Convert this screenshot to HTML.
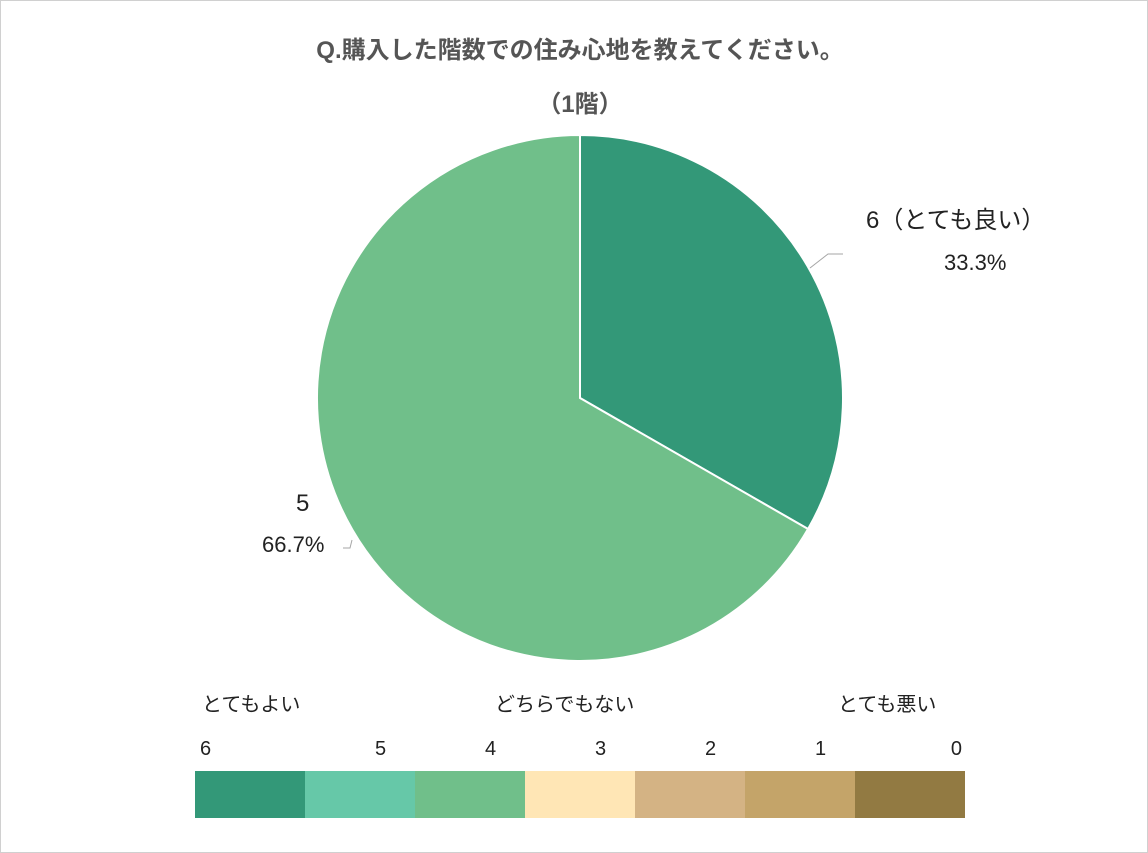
<!DOCTYPE html>
<html><head><meta charset="utf-8">
<style>
body{margin:0;background:#fff;}
#c{position:relative;width:1148px;height:853px;overflow:hidden;font-family:"Liberation Sans","Noto Sans CJK JP",sans-serif;}
.t{position:absolute;white-space:nowrap;color:#222;}
</style></head>
<body>
<div id="c">
<svg width="1148" height="853" style="position:absolute;left:0;top:0">
<rect x="0.5" y="0.5" width="1147" height="852" fill="#fff" stroke="#d0d0d0"/>
<text x="580" y="58" text-anchor="middle" font-size="24" font-weight="bold" fill="#555" font-family="Liberation Sans, Noto Sans CJK JP, sans-serif">Q.購入した階数での住み心地を教えてください。</text>
<text x="580" y="112" text-anchor="middle" font-size="24" font-weight="bold" fill="#555" font-family="Liberation Sans, Noto Sans CJK JP, sans-serif">（1階）</text>
<g id="pie"></g>
<polyline points="810,268 828,254 843,254" fill="none" stroke="#a6a6a6" stroke-width="1"/>
<polyline points="343,548 350,548 352,540" fill="none" stroke="#a6a6a6" stroke-width="1"/>
<g id="legend"></g>
</svg>
<div class="t" style="left:866px;top:200px;font-size:24px;">6（とても良い）</div>
<div class="t" style="left:944px;top:250px;font-size:22px;">33.3%</div>
<div class="t" style="left:296px;top:490px;font-size:24px;">5</div>
<div class="t" style="left:262px;top:532px;font-size:22px;">66.7%</div>
<div class="t" style="left:202px;top:688px;font-size:20px;">とてもよい</div>
<div class="t" style="left:495px;top:688px;font-size:20px;">どちらでもない</div>
<div class="t" style="left:838px;top:688px;font-size:20px;">とても悪い</div>
</div>
<script>
const categories=["6（とても良い）","5"];
const values=[33.3,66.7];
const colors=["#339878","#70BF8A"];
const scaleLabels=["6","5","4","3","2","1","0"];
const scaleColors=["#339878","#66C8A8","#70BF8A","#FFE6B5","#D4B384","#C4A469","#927A42"];
const NS="http://www.w3.org/2000/svg";
const cx=580,cy=398,r=263;
const pie=document.getElementById('pie');
const total=values.reduce((a,b)=>a+b,0);
function pt(a){return [cx+r*Math.sin(a),cy-r*Math.cos(a)];}
let a0=0;
values.forEach((v,i)=>{
  const a1=a0+v/total*2*Math.PI;
  const p0=pt(a0),p1=pt(a1);
  const large=(a1-a0)>Math.PI?1:0;
  const p=document.createElementNS(NS,'path');
  p.setAttribute('d',`M${cx},${cy}L${p0[0]},${p0[1]}A${r},${r} 0 ${large} 1 ${p1[0]},${p1[1]}Z`);
  p.setAttribute('fill',colors[i]);
  p.setAttribute('stroke','#fff');
  p.setAttribute('stroke-width','2');
  
  
  pie.appendChild(p);
  a0=a1;
});
const lg=document.getElementById('legend');
scaleLabels.forEach((l,i)=>{
  const x=195+i*110;
  const r=document.createElementNS(NS,'rect');
  r.setAttribute('x',x);r.setAttribute('y',771);r.setAttribute('width',110);r.setAttribute('height',47);
  r.setAttribute('fill',scaleColors[i]);
  
  
  lg.appendChild(r);
  const t=document.createElementNS(NS,'text');
  t.setAttribute('x',i===0?200:(i===6?962:x+70));
  t.setAttribute('y',755);
  t.setAttribute('font-size','20');
  t.setAttribute('fill','#222');
  t.setAttribute('text-anchor',i===6?'end':'start');
  t.setAttribute('font-family','Liberation Sans, sans-serif');
  t.textContent=l;
  
  
  lg.appendChild(t);
});
</script>
</body></html>
